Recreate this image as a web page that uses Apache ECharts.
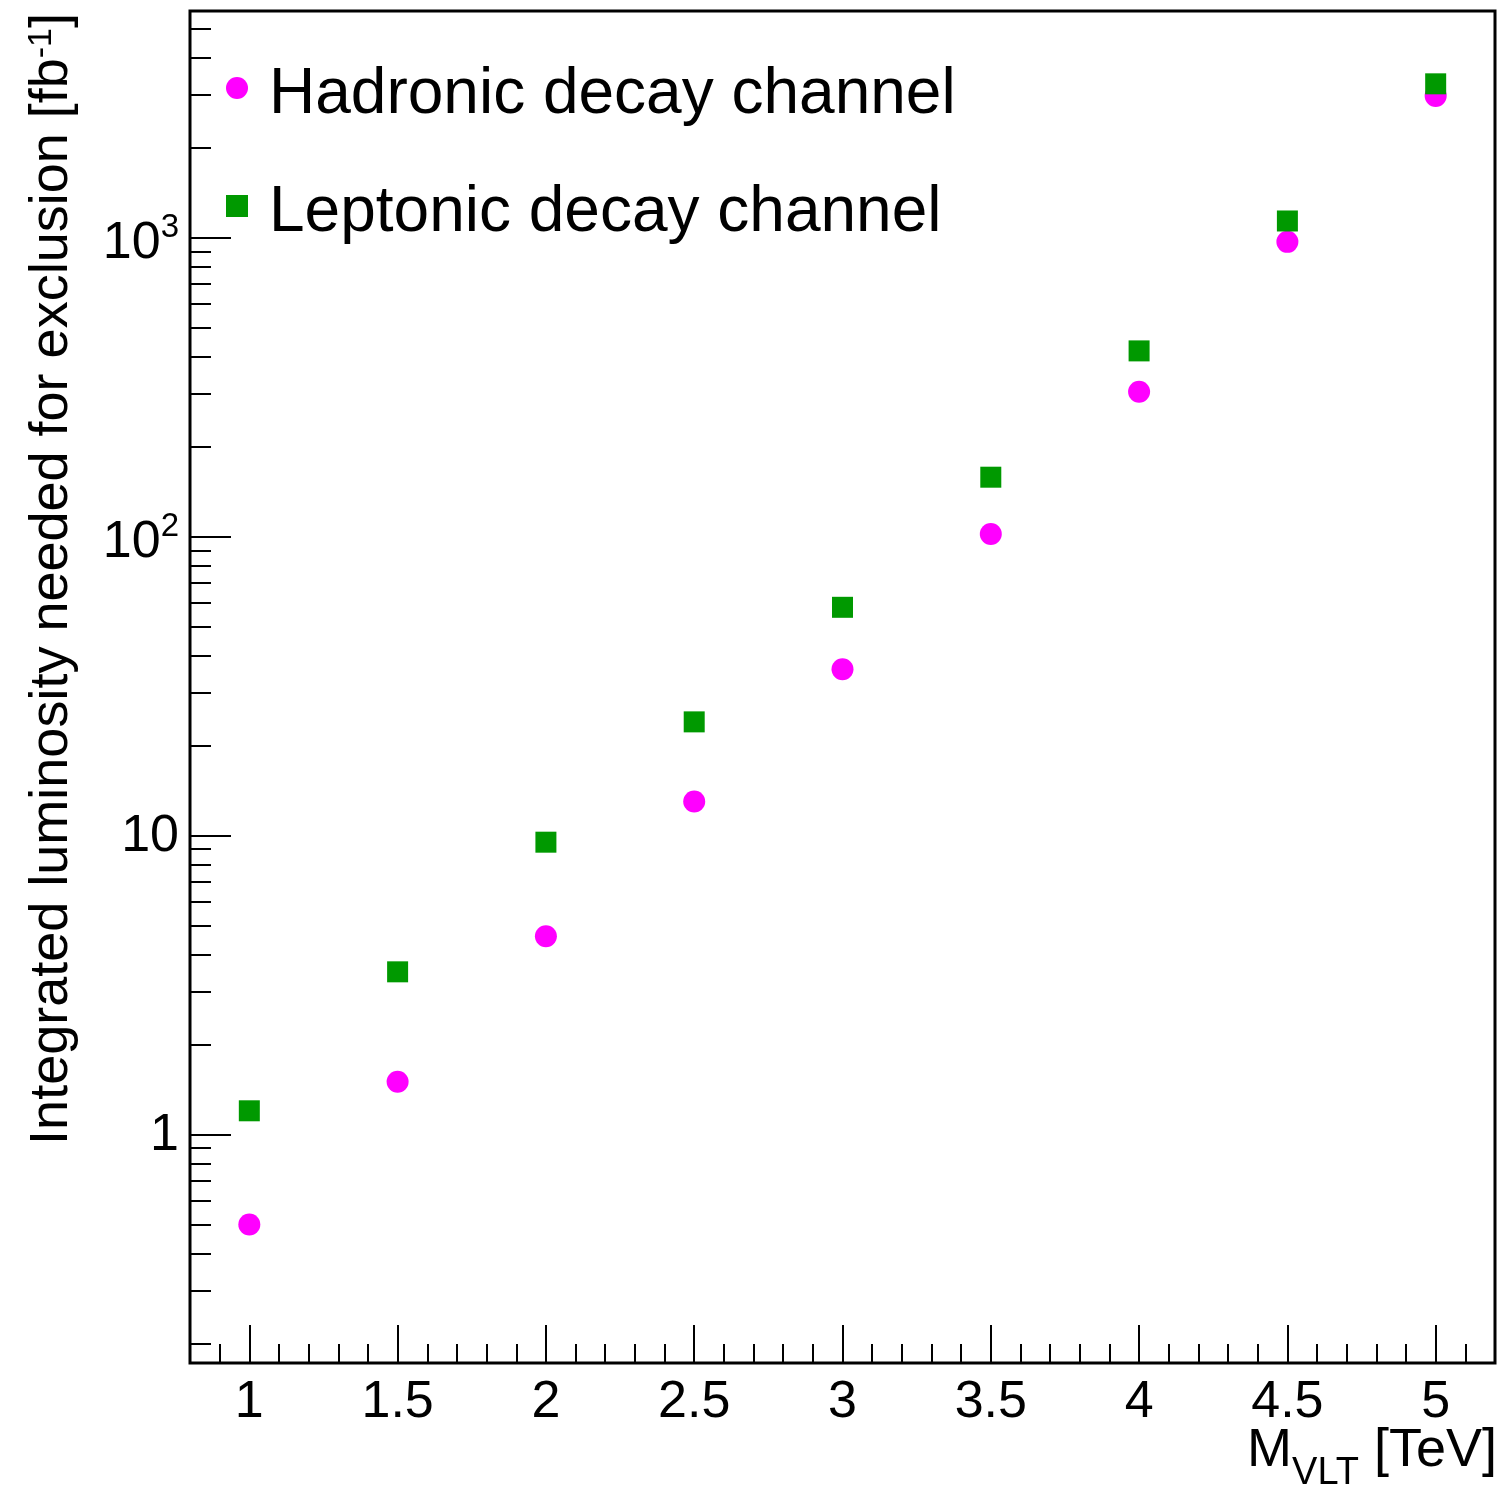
<!DOCTYPE html>
<html><head><meta charset="utf-8">
<script src="https://cdn.jsdelivr.net/npm/echarts@6/dist/echarts.min.js"></script>
<style>html,body{margin:0;padding:0;background:#fff}#c{width:1501px;height:1488px}</style>
</head><body><div id="c"></div><script>
const massValues = [1, 1.5, 2, 2.5, 3, 3.5, 4, 4.5, 5];
const hadronicLumi = [0.5, 1.5, 4.6, 13.0, 36, 102, 305, 968, 2980];
const leptonicLumi = [1.2, 3.5, 9.5, 24, 58, 158, 418, 1137, 3270];
const xMajorTicks = [1, 1.5, 2, 2.5, 3, 3.5, 4, 4.5, 5];
const xMinorTicks = [0.9, 1.1, 1.2, 1.3, 1.4, 1.6, 1.7, 1.8, 1.9, 2.1, 2.2, 2.3, 2.4, 2.6, 2.7, 2.8, 2.9,
  3.1, 3.2, 3.3, 3.4, 3.6, 3.7, 3.8, 3.9, 4.1, 4.2, 4.3, 4.4, 4.6, 4.7, 4.8, 4.9, 5.1];
const yMajorTicks = [1, 10, 100, 1000];
const yMinorTicks = [0.2, 0.3, 0.4, 0.5, 0.6, 0.7, 0.8, 0.9, 2, 3, 4, 5, 6, 7, 8, 9,
  20, 30, 40, 50, 60, 70, 80, 90, 200, 300, 400, 500, 600, 700, 800, 900, 2000, 3000, 4000, 5000];
const seriesNames = ['Hadronic decay channel', 'Leptonic decay channel'];

const FONT = 'Liberation Sans';
const chart = echarts.init(document.getElementById('c'), null, {renderer: 'canvas'});
const xRange = [0.8, 5.2];
const yRange = [0.172, 5730];

function xAxisCfg(ticks, len, showLabel) {
  return {
    type: 'value', min: xRange[0], max: xRange[1], position: 'bottom',
    axisLine: {show: false}, splitLine: {show: false},
    axisTick: {show: true, inside: true, length: len, customValues: ticks, lineStyle: {color: '#000', width: 2}},
    axisLabel: showLabel ? {show: true, customValues: ticks, margin: 14, fontSize: 52, fontFamily: FONT, color: '#000',
      formatter: v => String(v)} : {show: false}
  };
}
function yAxisCfg(ticks, len, showLabel) {
  return {
    type: 'log', logBase: 10, min: yRange[0], max: yRange[1], position: 'left',
    axisLine: {show: false}, splitLine: {show: false}, minorTick: {show: false},
    axisTick: {show: true, inside: true, length: len, customValues: ticks, lineStyle: {color: '#000', width: 2}},
    axisLabel: showLabel ? {show: true, customValues: ticks, margin: 11, fontSize: 52, fontFamily: FONT, color: '#000',
      formatter: v => {
        const e = Math.round(Math.log10(v));
        if (e <= 1) return '{p|' + String(Math.round(v)) + '}';
        return '{b|10}{sup|' + e + '}';
      },
      rich: {
        p: {fontSize: 52, fontFamily: FONT, color: '#000', lineHeight: 60, padding: [3, 0, 0, 0]},
        b: {fontSize: 52, fontFamily: FONT, color: '#000', lineHeight: 64, padding: [10, 0, 0, 0], verticalAlign: 'bottom'},
        sup: {fontSize: 33, fontFamily: FONT, color: '#000', lineHeight: 33, padding: [6, 0, 0, 0], verticalAlign: 'top'}
      }} : {show: false}
  };
}

const option = {
  backgroundColor: '#fff',
  animation: false,
  grid: {left: 190, right: 6, top: 11, bottom: 125, show: true, borderColor: '#000', borderWidth: 3,
    backgroundColor: 'transparent', containLabel: false, outerBoundsMode: 'none'},
  xAxis: [xAxisCfg(xMajorTicks, 38, true), xAxisCfg(xMinorTicks, 19, false)],
  yAxis: [yAxisCfg(yMajorTicks, 41, true), yAxisCfg(yMinorTicks, 21, false)],
  legend: {
    orient: 'vertical', left: 221, top: 44, itemGap: 40, itemWidth: 22, itemHeight: 22,
    data: seriesNames,
    formatter: name => '{t|' + name + '}',
    textStyle: {fontSize: 64, fontFamily: FONT, color: '#000', padding: [0, 0, 0, 16],
      rich: {t: {fontSize: 64, fontFamily: FONT, color: '#000', lineHeight: 64, padding: [14, 0, 0, 0]}}},
    selectedMode: false
  },
  series: [
    {name: seriesNames[0], type: 'scatter', symbol: 'circle', symbolSize: 22,
      itemStyle: {color: '#ff00ff', opacity: 1}, data: massValues.map((m, i) => [m, hadronicLumi[i]])},
    {name: seriesNames[1], type: 'scatter', symbol: 'rect', symbolSize: 21,
      itemStyle: {color: '#009900', opacity: 1}, data: massValues.map((m, i) => [m, leptonicLumi[i]])}
  ],
  graphic: [
    {type: 'text', x: 52, y: 13, rotation: Math.PI / 2,
      style: {text: 'Integrated luminosity needed for exclusion [fb{sup|-1}]', fill: '#000',
        font: '54px "' + FONT + '"', align: 'right', verticalAlign: 'middle',
        rich: {sup: {fontSize: 34, fontFamily: FONT, fill: '#000', verticalAlign: 'top', lineHeight: 34}}}},
    {type: 'text', x: 1497, y: 1424,
      style: {text: '{m|M}{sub|VLT}{m| [TeV]}', fill: '#000', align: 'right', verticalAlign: 'top',
        rich: {
          m: {fontSize: 54, fontFamily: FONT, fill: '#000', lineHeight: 54, verticalAlign: 'top'},
          sub: {fontSize: 38, fontFamily: FONT, fill: '#000', lineHeight: 38, padding: [31, 0, 0, 0], verticalAlign: 'top'}
        }}}
  ]
};
chart.setOption(option);
</script></body></html>
